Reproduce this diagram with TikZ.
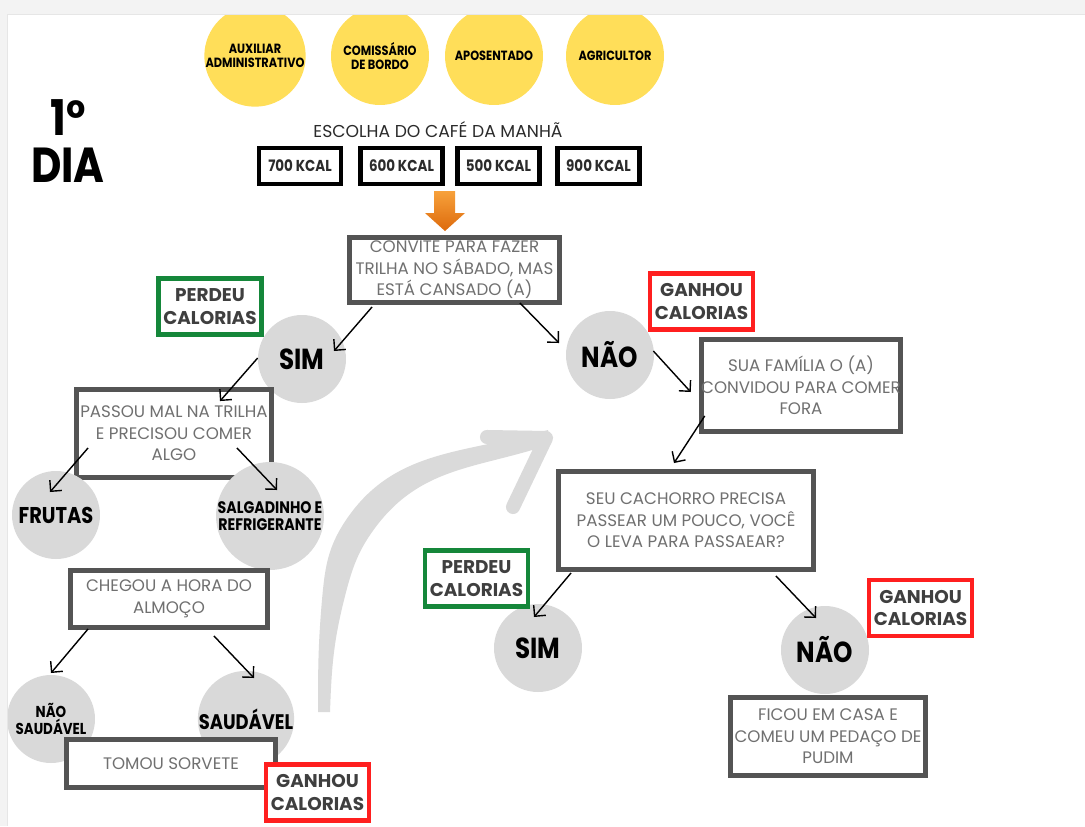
\documentclass[tikz,border=0pt]{standalone}
\usepackage{fontspec}
\setmainfont{Poppins}
\newfontfamily\heavyfont{Poppins}[FakeStretch=0.85]
\usetikzlibrary{arrows.meta}

\definecolor{jobyellow}{HTML}{FFDE59}
\definecolor{answergray}{HTML}{D9D9D9}
\definecolor{swoosh}{HTML}{DADADA}
\definecolor{boxline}{HTML}{545454}
\definecolor{qtext}{HTML}{707070}
\definecolor{tagtext}{HTML}{3F3F3F}
\definecolor{kcaltext}{HTML}{2B2B2B}
\definecolor{tagred}{HTML}{FF1F1F}
\definecolor{taggreen}{HTML}{15873A}
\definecolor{arrowlight}{HTML}{F7A13B}
\definecolor{arrowdark}{HTML}{DD6A0C}
\definecolor{pagegray}{HTML}{F3F3F3}
\definecolor{pageline}{HTML}{E6E6E6}

\begin{document}
\begin{tikzpicture}[x=0.02cm, y=-0.02cm]

\tikzset{qbox/.style = {draw=boxline, line width=2.8pt, fill=white, align=center, inner sep=0pt, text=qtext, font=\fontsize{9.5}{12.3}\selectfont}}
\tikzset{tagbox/.style = {draw=#1, line width=2.8pt, fill=white, align=center, inner sep=0pt, minimum width=2.06cm, minimum height=1.12cm, text=tagtext, font=\bfseries\fontsize{10.5}{13}\selectfont}}
\tikzset{job/.style = {circle, fill=jobyellow, inner sep=0pt, minimum size=1.96cm, align=center, font=\heavyfont\bfseries\fontsize{7.6}{7.8}\selectfont}}
\tikzset{answer/.style = {circle, fill=answergray, inner sep=0pt, minimum size=1.76cm, align=center, font=\heavyfont\bfseries\fontsize{16.5}{18}\selectfont}}
\tikzset{kcalbox/.style = {draw=black, line width=2.3pt, fill=white, inner sep=0pt, minimum width=1.64cm, minimum height=0.72cm, text=kcaltext, font=\heavyfont\bfseries\fontsize{9}{10}\selectfont}}
\tikzset{edge/.style = {->, > = {Straight Barb[length=4.5pt,width=9pt]}, line width=0.8pt}}

\useasboundingbox (0,0) rectangle (1085,826);
\fill[white] (0,0) rectangle (1085,826);

% big gray swoosh
\fill[swoosh] (318,712) to[out=90,in=265] (322,600) to[out=85,in=236] (346,520) to[out=56,in=196] (548,430) -- (551,444) to[out=199,in=52] (378,524) to[out=232,in=76] (344,600) to[out=256,in=88] (330,712) -- cycle;
\draw[swoosh, line width=8pt, line cap=round, line join=round] (487,437) -- (546,438) -- (513,507);

% professions
\node[job] (job1) at (255,56) {AUXILIAR\\ADMINISTRATIVO};
\node[job] (job2) at (380,56) {COMISSÁRIO\\DE BORDO};
\node[job] (job3) at (494,56) {APOSENTADO};
\node[job] (job4) at (615,56) {AGRICULTOR};

\node[align=center, font=\heavyfont\bfseries\fontsize{28}{27.2}\selectfont] (daytitle) at (68,141) {1°\\DIA};

% breakfast
\node[text=kcaltext, font=\fontsize{9.8}{11}\selectfont] (breakfast) at (438,130) {ESCOLHA DO CAFÉ DA MANHÃ};
\node[kcalbox] (k700) at (300,166) {700 KCAL};
\node[kcalbox] (k600) at (401.5,166) {600 KCAL};
\node[kcalbox] (k500) at (498.5,166) {500 KCAL};
\node[kcalbox] (k900) at (598.5,166) {900 KCAL};
\shade[top color=arrowlight, bottom color=arrowdark] (434,191) -- (455,191) -- (455,213) -- (465,213) -- (445,231) -- (425,213) -- (434,213) -- cycle;

% first question
\node[qbox, minimum width=4.2cm, minimum height=1.3cm] (convite) at (454.5,270) {CONVITE PARA FAZER\\TRILHA NO SÁBADO, MAS\\ESTÁ CANSADO (A)};
\node[answer] (simA) at (302,359) {SIM};
\node[answer] (naoA) at (610,355) {NÃO};
\node[tagbox=taggreen] (perdeuA) at (210,306.5) {PERDEU\\CALORIAS};
\node[tagbox=tagred] (ganhouA) at (701.5,301.5) {GANHOU\\CALORIAS};

% right branch
\node[qbox, minimum width=3.9cm, minimum height=1.84cm] (sua) at (801,385.5) {SUA FAMÍLIA O (A)\\CONVIDOU PARA COMER\\FORA};
\node[qbox, minimum width=5.1cm, minimum height=1.96cm] (seu) at (686,520.5) {SEU CACHORRO PRECISA\\PASSEAR UM POUCO, VOCÊ\\O LEVA PARA PASSAEAR?};
\node[answer] (simB) at (538,648) {SIM};
\node[answer] (naoB) at (825,650) {NÃO};
\node[tagbox=taggreen] (perdeuB) at (476.5,578.5) {PERDEU\\CALORIAS};
\node[tagbox=tagred] (ganhouB) at (920.5,608) {GANHOU\\CALORIAS};
\node[qbox, minimum width=3.9cm, minimum height=1.56cm] (ficou) at (828,736.5) {FICOU EM CASA E\\COMEU UM PEDAÇO DE\\PUDIM};

% left branch
\node[qbox, minimum width=3.9cm, minimum height=1.76cm] (passou) at (174,433.5) {PASSOU MAL NA TRILHA\\E PRECISOU COMER\\ALGO};
\node[answer, font=\heavyfont\bfseries\fontsize{13}{15}\selectfont] (frutas) at (56,515) {FRUTAS};
\node[answer, minimum size=2.08cm, font=\heavyfont\bfseries\fontsize{9.5}{9.3}\selectfont] (salg) at (270,516) {SALGADINHO E\\REFRIGERANTE};
\node[qbox, minimum width=3.94cm, minimum height=1.14cm] (chegou) at (169,599) {CHEGOU A HORA DO\\ALMOÇO};
\node[answer, font=\heavyfont\bfseries\fontsize{9}{9.8}\selectfont] (naosaud) at (51,719) {NÃO\\SAUDÁVEL};
\node[answer, font=\heavyfont\bfseries\fontsize{12}{13}\selectfont] (saud) at (246,719) {SAUDÁVEL};
\node[qbox, minimum width=4.18cm, minimum height=0.96cm] (tomou) at (171,763.5) {TOMOU SORVETE};
\node[tagbox=tagred] (ganhouC) at (317.5,792.5) {GANHOU\\CALORIAS};

% edges
\draw[edge] ([shift={(25,2)}]convite.south west) to ([shift={(32,-8)}]simA.center);
\draw[edge] ([shift={(-42,-2)}]convite.south east) to ([shift={(-51,-12)}]naoA.center);
\draw[edge] ([shift={(0,-1)}]simA.west) to ([shift={(46,14)}]passou.north);
\draw[edge] ([shift={(-1,-4)}]naoA.east) to ([shift={(-8,6.5)}]sua.west);
\draw[edge] ([shift={(6,-18)}]sua.south west) to ([shift={(-12,-6)}]seu.north);
\draw[edge] ([shift={(14,-32)}]passou.south west) to ([shift={(-6,-23)}]frutas.center);
\draw[edge] ([shift={(-37,-32)}]passou.south east) to ([shift={(7,-26)}]salg.center);
\draw[edge] ([shift={(20,-1)}]chegou.south west) to ([shift={(0,-46)}]naosaud.center);
\draw[edge] ([shift={(-56,6)}]chegou.south east) to ([shift={(8,-41)}]saud.center);
\draw[edge] ([shift={(15,1)}]seu.south west) to ([shift={(-4,-31)}]simB.center);
\draw[edge] ([shift={(-40,4)}]seu.south east) to ([shift={(-9,-32)}]naoB.center);

% page edge
\fill[pagegray] (0,0) rectangle (1085,14);
\fill[pagegray] (0,0) rectangle (7,826);
\draw[pageline, line width=1pt] (7,14.5) -- (1085,14.5);
\draw[pageline, line width=1pt] (7.5,14) -- (7.5,826);

\end{tikzpicture}
\end{document}
